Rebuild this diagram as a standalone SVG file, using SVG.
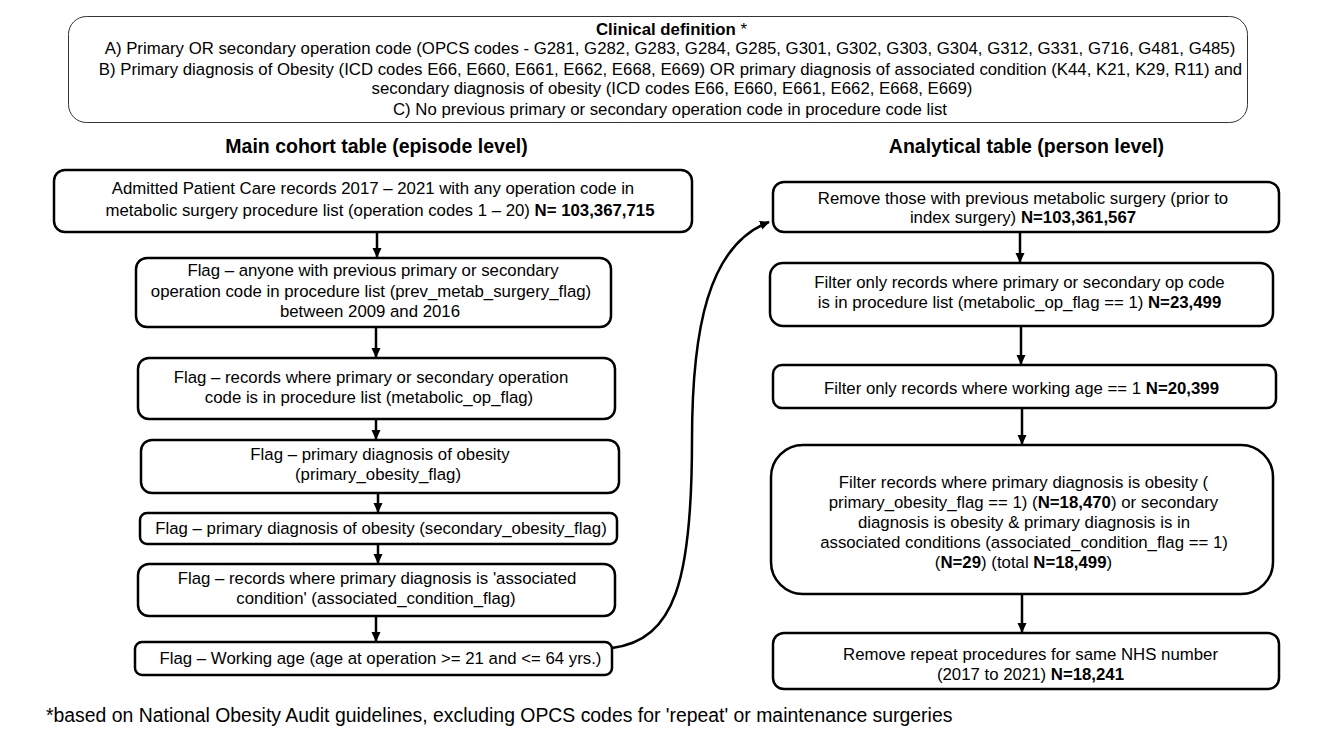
<svg xmlns="http://www.w3.org/2000/svg" width="1319" height="740" viewBox="0 0 1319 740">
<defs>
<style>
text{font-family:"Liberation Sans",Arial,sans-serif;fill:#000;}
.t{font-size:16.8px;text-anchor:middle;}
.d{font-size:16.8px;text-anchor:middle;}
.h{font-size:19.5px;font-weight:bold;text-anchor:middle;}
.b{font-weight:bold;}
.box{fill:#fff;stroke:#000;stroke-width:2.5;}
.def{fill:#fff;stroke:#333;stroke-width:1;}
.conn{fill:none;stroke:#000;stroke-width:2.5;}
</style>
<marker id="ah" markerUnits="userSpaceOnUse" markerWidth="10" markerHeight="10" viewBox="0 0 10 10" refX="9" refY="5" orient="auto">
<path d="M0,0.5 L10,5 L0,9.5 Z" fill="#000"/>
</marker>
</defs>
<rect width="1319" height="740" fill="#fff"/>

<g id="definition">
<rect class="def" x="68.5" y="16.5" width="1179" height="106" rx="18"/>
<text class="d" x="671.5" y="35"><tspan class="b">Clinical definition</tspan> *</text>
<text class="d" x="670" y="54">A) Primary OR secondary operation code (OPCS codes - G281, G282, G283, G284, G285, G301, G302, G303, G304, G312, G331, G716, G481, G485)</text>
<text class="d" x="670.5" y="75">B) Primary diagnosis of Obesity (ICD codes E66, E660, E661, E662, E668, E669) OR primary diagnosis of associated condition (K44, K21, K29, R11) and</text>
<text class="d" x="672" y="94">secondary diagnosis of obesity (ICD codes E66, E660, E661, E662, E668, E669)</text>
<text class="d" x="670" y="115">C) No previous primary or secondary operation code in procedure code list</text>
</g>

<g id="heading-main"><text class="h" x="376.5" y="153">Main cohort table (episode level)</text></g>
<g id="heading-analytical"><text class="h" x="1026.5" y="153">Analytical table (person level)</text></g>

<g id="connectors">
<line class="conn" x1="377" y1="232" x2="377" y2="257" marker-end="url(#ah)"/>
<line class="conn" x1="376" y1="327" x2="376" y2="357" marker-end="url(#ah)"/>
<line class="conn" x1="376" y1="419" x2="376" y2="439" marker-end="url(#ah)"/>
<line class="conn" x1="378" y1="493" x2="378" y2="512" marker-end="url(#ah)"/>
<line class="conn" x1="378" y1="544" x2="378" y2="563" marker-end="url(#ah)"/>
<line class="conn" x1="376" y1="616" x2="376" y2="641" marker-end="url(#ah)"/>
<path class="conn" d="M612,648 C675,640 692,580 692,440 C692,330 708,245 769,222" marker-end="url(#ah)"/>
<line class="conn" x1="1020" y1="232" x2="1020" y2="262" marker-end="url(#ah)"/>
<line class="conn" x1="1021" y1="326" x2="1021" y2="364" marker-end="url(#ah)"/>
<line class="conn" x1="1022" y1="408" x2="1022" y2="444" marker-end="url(#ah)"/>
<line class="conn" x1="1022" y1="594" x2="1022" y2="632" marker-end="url(#ah)"/>
</g>

<g id="m1">
<rect class="box" x="54" y="170" width="638" height="62" rx="11"/>
<text class="t" x="373" y="194">Admitted Patient Care records 2017 – 2021 with any operation code in</text>
<text class="t" x="380" y="216">metabolic surgery procedure list (operation codes 1 – 20) <tspan class="b">N= 103,367,715</tspan></text>
</g>
<g id="m2">
<rect class="box" x="136" y="258" width="475" height="69" rx="11"/>
<text class="t" x="373" y="276">Flag – anyone with previous primary or secondary</text>
<text class="t" x="371" y="296.5">operation code in procedure list (prev_metab_surgery_flag)</text>
<text class="t" x="370" y="317">between 2009 and 2016</text>
</g>
<g id="m3">
<rect class="box" x="138" y="358" width="477" height="61" rx="11"/>
<text class="t" x="371" y="383">Flag – records where primary or secondary operation</text>
<text class="t" x="369" y="403">code is in procedure list (metabolic_op_flag)</text>
</g>
<g id="m4">
<rect class="box" x="141" y="440" width="478" height="53" rx="11"/>
<text class="t" x="380" y="460">Flag – primary diagnosis of obesity</text>
<text class="t" x="378" y="480">(primary_obesity_flag)</text>
</g>
<g id="m5">
<rect class="box" x="140" y="513" width="477" height="31" rx="7"/>
<text class="t" x="381" y="534">Flag – primary diagnosis of obesity (secondary_obesity_flag)</text>
</g>
<g id="m6">
<rect class="box" x="138" y="564" width="477" height="52" rx="11"/>
<text class="t" x="377" y="584">Flag – records where primary diagnosis is 'associated</text>
<text class="t" x="376" y="604">condition' (associated_condition_flag)</text>
</g>
<g id="m7">
<rect class="box" x="135" y="642" width="477" height="33" rx="7"/>
<text class="t" x="380.5" y="664">Flag – Working age (age at operation &gt;= 21 and &lt;= 64 yrs.)</text>
</g>

<g id="a1">
<rect class="box" x="773" y="182" width="506" height="50" rx="11"/>
<text class="t" x="1023" y="204">Remove those with previous metabolic surgery (prior to</text>
<text class="t" x="1023" y="223">index surgery) <tspan class="b">N=103,361,567</tspan></text>
</g>
<g id="a2">
<rect class="box" x="770" y="263" width="503" height="63" rx="13"/>
<text class="t" x="1019.5" y="288">Filter only records where primary or secondary op code</text>
<text class="t" x="1019.5" y="308">is in procedure list (metabolic_op_flag == 1) <tspan class="b">N=23,499</tspan></text>
</g>
<g id="a3">
<rect class="box" x="773" y="365" width="503" height="43" rx="9"/>
<text class="t" x="1021.5" y="394">Filter only records where working age == 1 <tspan class="b">N=20,399</tspan></text>
</g>
<g id="a4">
<rect class="box" x="771" y="445" width="502" height="149" rx="32"/>
<text class="t" x="1023.5" y="488">Filter records where primary diagnosis is obesity (</text>
<text class="t" x="1023.5" y="508">primary_obesity_flag == 1) (<tspan class="b">N=18,470</tspan>) or secondary</text>
<text class="t" x="1024" y="528">diagnosis is obesity &amp; primary diagnosis is in</text>
<text class="t" x="1024" y="548">associated conditions (associated_condition_flag == 1)</text>
<text class="t" x="1023.5" y="568">(<tspan class="b">N=29</tspan>) (total <tspan class="b">N=18,499</tspan>)</text>
</g>
<g id="a5">
<rect class="box" x="773" y="633" width="506" height="56" rx="11"/>
<text class="t" x="1030.5" y="660">Remove repeat procedures for same NHS number</text>
<text class="t" x="1030.5" y="680">(2017 to 2021) <tspan class="b">N=18,241</tspan></text>
</g>

<g id="footnote">
<text x="46" y="722" style="font-size:19.4px">*based on National Obesity Audit guidelines, excluding OPCS codes for 'repeat' or maintenance surgeries</text>
</g>
</svg>
